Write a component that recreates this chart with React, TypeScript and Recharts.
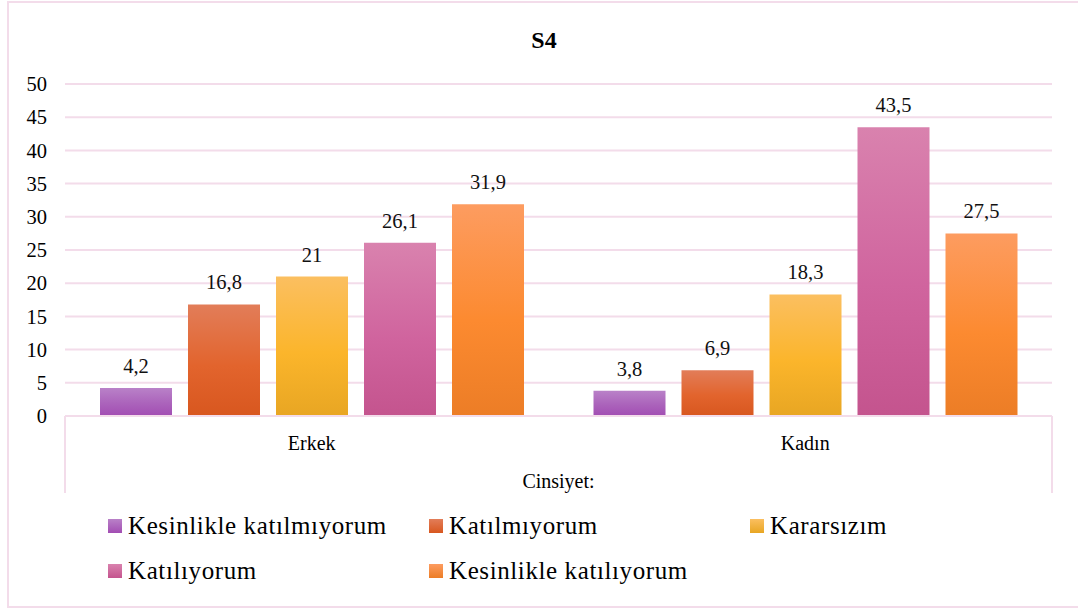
import React from 'react';
import { BarChart, Bar, XAxis, YAxis, CartesianGrid, LabelList, Legend, Label } from 'recharts';

const categories = ['Erkek', 'Kadın'];
const seriesNames = [
  'Kesinlikle katılmıyorum',
  'Katılmıyorum',
  'Kararsızım',
  'Katılıyorum',
  'Kesinlikle katılıyorum',
];
const kesinlikleKatilmiyorum = [4.2, 3.8];
const katilmiyorum = [16.8, 6.9];
const kararsizim = [21, 18.3];
const katiliyorum = [26.1, 43.5];
const kesinlikleKatiliyorum = [31.9, 27.5];
const yTicks = [0, 5, 10, 15, 20, 25, 30, 35, 40, 45, 50];

const seriesValues = [kesinlikleKatilmiyorum, katilmiyorum, kararsizim, katiliyorum, kesinlikleKatiliyorum];
const seriesKeys = ['s0', 's1', 's2', 's3', 's4'];

const gradients = [
  ['#b981c8', '#ab63bb', '#a24db3'],
  ['#e27d59', '#e2642d', '#d8571f'],
  ['#fbbf60', '#fbb52b', '#e8a623'],
  ['#d982ae', '#d0649e', '#c4548e'],
  ['#fd9c60', '#fc8a30', '#ec7d26'],
];

const data = categories.map((c, i) => {
  const row: Record<string, any> = { name: c };
  seriesKeys.forEach((k, j) => {
    row[k] = seriesValues[j][i];
  });
  return row;
});

const FONT = 'Liberation Serif';
const PINK = '#f3dcea';

const fmt = (v: any) => String(v).replace('.', ',');

const LegendContent = () => (
  <div style={{ position: 'relative', width: 1078, height: 90, fontFamily: FONT }}>
    {seriesNames.map((n, i) => {
      const col = i % 3;
      const row = Math.floor(i / 3);
      return (
        <div
          key={n}
          style={{
            position: 'absolute',
            left: 108 + col * 321,
            top: row * 45,
            height: 25,
            display: 'flex',
            alignItems: 'center',
            whiteSpace: 'nowrap',
          }}
        >
          <div
            style={{
              width: 14,
              height: 14,
              background: `linear-gradient(${gradients[i][0]}, ${gradients[i][2]})`,
              marginRight: 6,
            }}
          />
          <span style={{ fontFamily: FONT, fontSize: 25, lineHeight: '25px', letterSpacing: 0.6, color: '#000' }}>{n}</span>
        </div>
      );
    })}
  </div>
);

export default function App() {
  return (
    <div
      style={{
        position: 'absolute',
        left: 0,
        top: 0,
        width: 1078,
        height: 609,
        overflow: 'hidden',
        background: '#fff',
        fontFamily: FONT,
      }}
    >
      <div
        style={{
          position: 'absolute',
          left: 7,
          top: 1,
          width: 1090,
          height: 603,
          border: `2px solid ${PINK}`,
        }}
      />
      <div
        style={{
          position: 'absolute',
          left: 0,
          top: 28,
          width: 1088,
          textAlign: 'center',
          fontFamily: FONT,
          fontWeight: 'bold',
          fontSize: 24,
          lineHeight: '24px',
          color: '#000',
        }}
      >
        S4
      </div>
      <div
        style={{
          position: 'absolute',
          left: 64,
          top: 416,
          width: 985,
          height: 77,
          borderLeft: `2px solid ${PINK}`,
          borderRight: `2px solid ${PINK}`,
        }}
      />
      <div style={{ position: 'absolute', left: 0, top: 0 }}>
        <BarChart
          width={1078}
          height={609}
          data={data}
          margin={{ top: 84, right: 26, bottom: 116, left: 5 }}
          barCategoryGap={35}
          barGap={16}
          style={{ fontFamily: FONT }}
        >
          <defs>
            {gradients.map((g, i) => (
              <linearGradient key={i} id={`grad${i}`} x1="0" y1="0" x2="0" y2="1">
                <stop offset="0%" stopColor={g[0]} />
                <stop offset="55%" stopColor={g[1]} />
                <stop offset="100%" stopColor={g[2]} />
              </linearGradient>
            ))}
          </defs>
          <CartesianGrid vertical={false} stroke={PINK} strokeWidth={2} />
          <XAxis
            dataKey="name"
            height={77}
            tickSize={0}
            tickMargin={20}
            axisLine={{ stroke: PINK, strokeWidth: 2 }}
            tickLine={false}
            tick={{ fontSize: 20, fill: '#000', fontFamily: FONT }}
          >
            <Label
              value="Cinsiyet:"
              position="insideBottom"
              offset={5}
              fontFamily={FONT}
              fontSize={20}
              fill="#000"
            />
          </XAxis>
          <YAxis
            width={60}
            domain={[0, 50]}
            ticks={yTicks}
            interval={0}
            axisLine={false}
            tickLine={false}
            tickSize={0}
            tickMargin={18}
            tick={{ fontSize: 20.5, fill: '#000', fontFamily: FONT }}
          />
          <Legend
            layout="vertical"
            align="center"
            verticalAlign="middle"
            wrapperStyle={{ left: 0, top: 513, width: 1078, height: 90 }}
            content={<LegendContent />}
          />
          {seriesKeys.map((k, i) => (
            <Bar key={k} dataKey={k} name={seriesNames[i]} fill={`url(#grad${i})`} isAnimationActive={false}>
              <LabelList
                dataKey={k}
                position="top"
                offset={15}
                formatter={fmt}
                fontFamily={FONT}
                fontSize={20.5}
                fill="#111"
              />
            </Bar>
          ))}
        </BarChart>
      </div>
    </div>
  );
}
